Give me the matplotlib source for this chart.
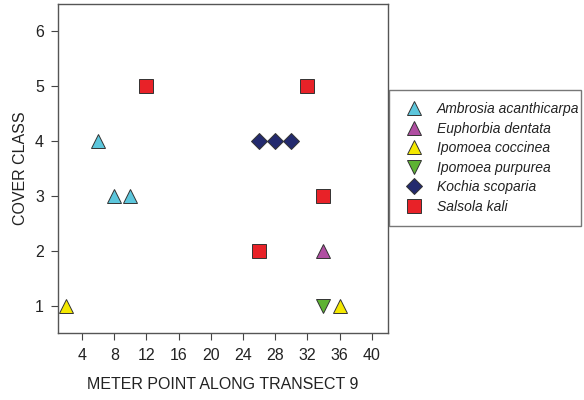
import matplotlib.pyplot as plt

plt.rcParams['font.family'] = ['Liberation Sans', 'DejaVu Sans']

# data
species = ['Ambrosia acanthicarpa', 'Euphorbia dentata', 'Ipomoea coccinea',
           'Ipomoea purpurea', 'Kochia scoparia', 'Salsola kali']
meter = [[6, 8, 10], [34], [2, 36], [34], [26, 28, 30], [12, 32, 34, 26]]
cover = [[4, 3, 3], [2], [1, 1], [1], [4, 4, 4], [5, 5, 3, 2]]
colors = ['#5cc6dc', '#b04ea2', '#f4e800', '#5db233', '#232a6e', '#e82228']
markers = ['^', '^', '^', 'v', 'D', 's']
sizes = [10, 10, 10, 10, 8.3, 9.5]

x_ticks = list(range(4, 41, 4))
y_ticks = [1, 2, 3, 4, 5, 6]

fig = plt.figure(figsize=(5.84, 4.0), dpi=100)
ax = fig.add_axes([0.0993, 0.1675, 0.5647, 0.8225])

for name, xs, ys, c, m, s in zip(species, meter, cover, colors, markers, sizes):
    ax.plot(xs, ys, linestyle='none', marker=m, markersize=s,
            markerfacecolor=c, markeredgecolor='#333333', markeredgewidth=0.7,
            label=name)

ax.set_xlim(1, 42)
ax.set_ylim(0.5, 6.5)
ax.set_xticks(x_ticks)
ax.set_yticks(y_ticks)
ax.tick_params(direction='out', length=5, width=0.8, color='#444444',
               labelsize=11.5, labelcolor='#222222', top=False, right=False)
ax.tick_params(axis='x', pad=6)
ax.tick_params(axis='y', pad=5)
for sp in ax.spines.values():
    sp.set_color('#555555')
    sp.set_linewidth(1.0)

ax.set_xlabel('METER POINT ALONG TRANSECT 9', fontsize=11.5, color='#222222', labelpad=10)
ax.set_ylabel('COVER CLASS', fontsize=11.5, color='#222222', labelpad=5)

leg = fig.legend(loc='upper left', bbox_to_anchor=(0.666, 0.45, 0.329, 0.326),
                 mode='expand', borderaxespad=0, frameon=True, fancybox=False,
                 prop={'style': 'italic', 'size': 10}, labelspacing=0.4,
                 handletextpad=0.74, borderpad=0.9, handlelength=1.8)
leg.get_frame().set_edgecolor('#555555')
leg.get_frame().set_linewidth(1.0)
for t in leg.get_texts():
    t.set_color('#222222')

plt.savefig('out.png', dpi=100)
